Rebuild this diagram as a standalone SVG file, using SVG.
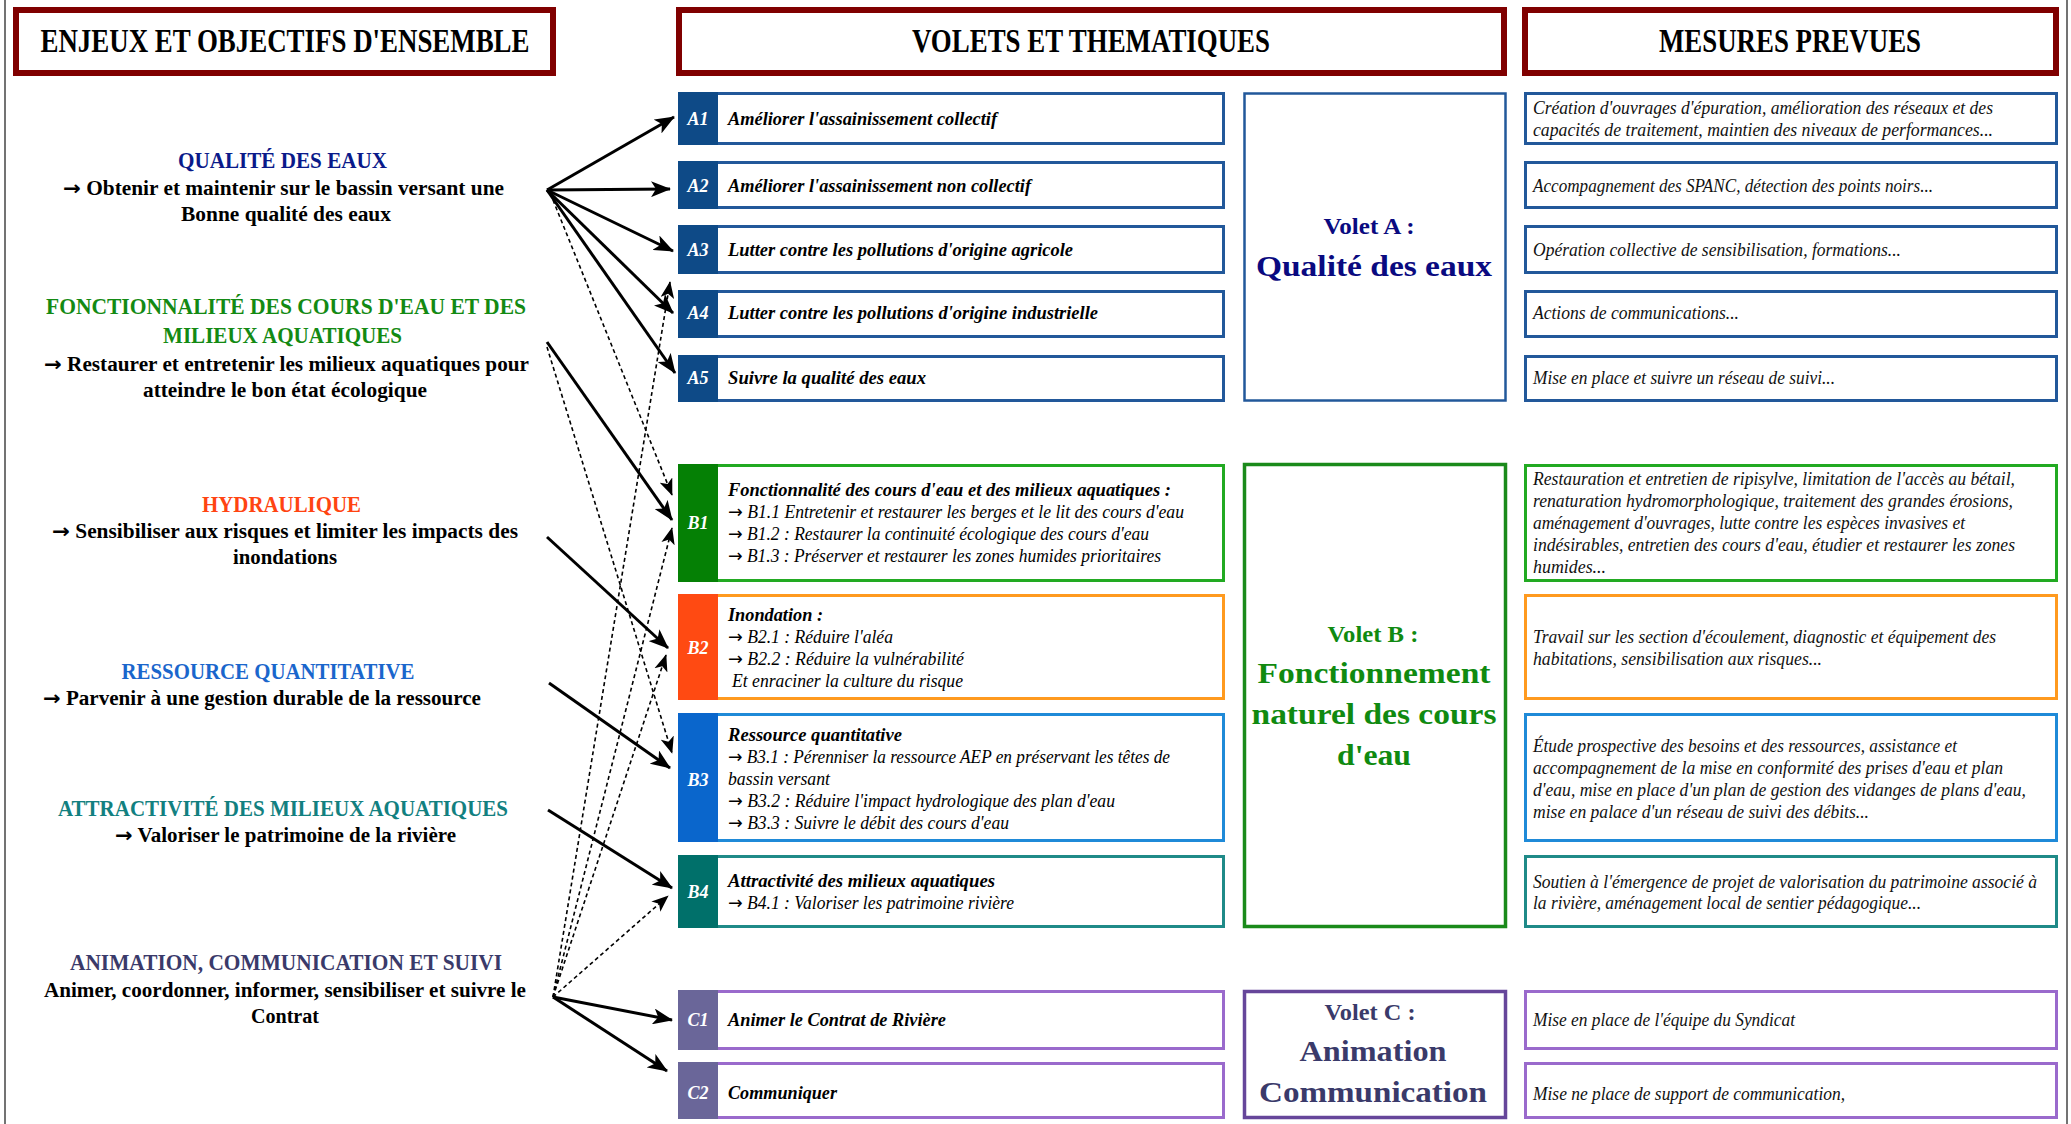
<svg xmlns="http://www.w3.org/2000/svg" width="2071" height="1124" viewBox="0 0 2071 1124">
<defs>
<style>
text{font-family:"Liberation Serif","Times New Roman",serif}
.ar{font-family:"DejaVu Sans",sans-serif}
.hdr{fill:#fff;stroke:#800000;stroke-width:6}
.htx{font-size:33px;font-weight:bold;fill:#000;text-anchor:middle}
.ttl{font-size:24px;font-weight:bold;text-anchor:middle}
.bdy{font-size:20px;font-weight:bold;fill:#000;text-anchor:middle}
.thb{font-size:19px;font-weight:bold;font-style:italic;fill:#000}
.thr{font-size:18px;font-style:italic;fill:#000}
.lab{font-size:18px;font-style:italic;font-weight:bold;fill:#fff;text-anchor:middle}
.mes{font-size:18px;font-style:italic;fill:#111}
.vs{font-size:24px;font-weight:bold;text-anchor:middle}
.vb{font-size:30px;font-weight:bold;text-anchor:middle}
.bx{fill:#fff;stroke-width:3}
.ca{stroke:#22589a}.fa{fill:#0e4a87}
.cb1{stroke:#22aa22}.fb1{fill:#058005}
.cb2{stroke:#ff9a1f}.fb2{fill:#ff4a12}
.cb3{stroke:#1f8ad8}.fb3{fill:#0a66cc}
.cb4{stroke:#1f8a88}.fb4{fill:#00706a}
.cc{stroke:#9a6acc}.fc{fill:#6a6699}
.sol{stroke:#000;stroke-width:3;fill:none;marker-end:url(#ah)}
.dsh{stroke:#000;stroke-width:1.6;fill:none;stroke-dasharray:4 3;marker-end:url(#ahd)}
</style>
<marker id="ah" viewBox="0 0 20 16" markerWidth="20" markerHeight="16" refX="19" refY="8" orient="auto" markerUnits="userSpaceOnUse"><path d="M0,0 L20,8 L0,16 L5,8 z" fill="#000"/></marker>
<marker id="ahd" viewBox="0 0 20 16" markerWidth="17" markerHeight="14" refX="19" refY="8" orient="auto" markerUnits="userSpaceOnUse"><path d="M0,0 L20,8 L0,16 L5,8 z" fill="#000"/></marker>
</defs>
<rect x="0" y="0" width="2071" height="1124" fill="#fff"/>
<line x1="5" y1="0" x2="5" y2="1124" stroke="#444" stroke-width="1.5"/>
<line x1="2067" y1="0" x2="2067" y2="1124" stroke="#444" stroke-width="1.5"/>

<g id="headers">
<rect class="hdr" x="16" y="10" width="537" height="63"/>
<text class="htx" x="285" y="52" textLength="489" lengthAdjust="spacingAndGlyphs">ENJEUX ET OBJECTIFS D'ENSEMBLE</text>
<rect class="hdr" x="679" y="10" width="825" height="63"/>
<text class="htx" x="1091" y="52" textLength="358" lengthAdjust="spacingAndGlyphs">VOLETS ET THEMATIQUES</text>
<rect class="hdr" x="1525" y="10" width="531" height="63"/>
<text class="htx" x="1790" y="52" textLength="262" lengthAdjust="spacingAndGlyphs">MESURES PREVUES</text>
</g>

<g id="enjeu-qualite">
<text class="ttl" x="282.5" y="168" fill="#0a1a8a" textLength="209" lengthAdjust="spacingAndGlyphs">QUALITÉ DES EAUX</text>
<text class="bdy" x="283.5" y="195" textLength="441" lengthAdjust="spacingAndGlyphs"><tspan class="ar">→</tspan> Obtenir et maintenir sur le bassin versant une</text>
<text class="bdy" x="286" y="221" textLength="210" lengthAdjust="spacingAndGlyphs">Bonne qualité des eaux</text>
</g>
<g id="enjeu-fonctionnalite">
<text class="ttl" x="286" y="314" fill="#138a13" textLength="480" lengthAdjust="spacingAndGlyphs">FONCTIONNALITÉ DES COURS D'EAU ET DES</text>
<text class="ttl" x="282.5" y="343" fill="#138a13" textLength="239" lengthAdjust="spacingAndGlyphs">MILIEUX AQUATIQUES</text>
<text class="bdy" x="286.5" y="371" textLength="485" lengthAdjust="spacingAndGlyphs"><tspan class="ar">→</tspan> Restaurer et entretenir les milieux aquatiques pour</text>
<text class="bdy" x="285" y="397" textLength="284" lengthAdjust="spacingAndGlyphs">atteindre le bon état écologique</text>
</g>
<g id="enjeu-hydraulique">
<text class="ttl" x="281.5" y="512" fill="#ff4411" textLength="159" lengthAdjust="spacingAndGlyphs">HYDRAULIQUE</text>
<text class="bdy" x="285" y="538" textLength="466" lengthAdjust="spacingAndGlyphs"><tspan class="ar">→</tspan> Sensibiliser aux risques et limiter les impacts des</text>
<text class="bdy" x="285" y="564" textLength="104" lengthAdjust="spacingAndGlyphs">inondations</text>
</g>
<g id="enjeu-ressource">
<text class="ttl" x="268" y="679" fill="#1a66cc" textLength="293" lengthAdjust="spacingAndGlyphs">RESSOURCE QUANTITATIVE</text>
<text class="bdy" x="262" y="705" textLength="438" lengthAdjust="spacingAndGlyphs"><tspan class="ar">→</tspan> Parvenir à une gestion durable de la ressource</text>
</g>
<g id="enjeu-attractivite">
<text class="ttl" x="283" y="816" fill="#128080" textLength="450" lengthAdjust="spacingAndGlyphs">ATTRACTIVITÉ DES MILIEUX AQUATIQUES</text>
<text class="bdy" x="285.5" y="842" textLength="341" lengthAdjust="spacingAndGlyphs"><tspan class="ar">→</tspan> Valoriser le patrimoine de la rivière</text>
</g>
<g id="enjeu-animation">
<text class="ttl" x="286" y="970" fill="#3a3a6a" textLength="432" lengthAdjust="spacingAndGlyphs">ANIMATION, COMMUNICATION ET SUIVI</text>
<text class="bdy" x="285" y="997" textLength="482" lengthAdjust="spacingAndGlyphs">Animer, coordonner, informer, sensibiliser et suivre le</text>
<text class="bdy" x="285" y="1023" textLength="68" lengthAdjust="spacingAndGlyphs">Contrat</text>
</g>

<g id="theme-A1">
<rect class="bx ca" x="679.5" y="93.5" width="544" height="50"/>
<rect class="fa" x="678" y="92" width="40" height="53"/>
<text class="lab" x="698" y="125">A1</text>
<text class="thb" x="728" y="125" textLength="269" lengthAdjust="spacingAndGlyphs">Améliorer l'assainissement collectif</text>
</g>
<g id="theme-A2">
<rect class="bx ca" x="679.5" y="162.5" width="544" height="45"/>
<rect class="fa" x="678" y="161" width="40" height="48"/>
<text class="lab" x="698" y="192">A2</text>
<text class="thb" x="728" y="192" textLength="303" lengthAdjust="spacingAndGlyphs">Améliorer l'assainissement non collectif</text>
</g>
<g id="theme-A3">
<rect class="bx ca" x="679.5" y="226.5" width="544" height="46"/>
<rect class="fa" x="678" y="225" width="40" height="49"/>
<text class="lab" x="698" y="256">A3</text>
<text class="thb" x="728" y="256" textLength="345" lengthAdjust="spacingAndGlyphs">Lutter contre les pollutions d'origine agricole</text>
</g>
<g id="theme-A4">
<rect class="bx ca" x="679.5" y="291.5" width="544" height="45"/>
<rect class="fa" x="678" y="290" width="40" height="48"/>
<text class="lab" x="698" y="319">A4</text>
<text class="thb" x="728" y="319" textLength="370" lengthAdjust="spacingAndGlyphs">Lutter contre les pollutions d'origine industrielle</text>
</g>
<g id="theme-A5">
<rect class="bx ca" x="679.5" y="356.5" width="544" height="44"/>
<rect class="fa" x="678" y="355" width="40" height="47"/>
<text class="lab" x="698" y="384">A5</text>
<text class="thb" x="728" y="384" textLength="198" lengthAdjust="spacingAndGlyphs">Suivre la qualité des eaux</text>
</g>
<g id="theme-B1">
<rect class="bx cb1" x="679.5" y="465.5" width="544" height="115"/>
<rect class="fb1" x="678" y="464" width="40" height="118"/>
<text class="lab" x="698" y="529">B1</text>
<text class="thb" x="728" y="496" textLength="443" lengthAdjust="spacingAndGlyphs">Fonctionnalité des cours d'eau et des milieux aquatiques :</text>
<text class="thr" x="728" y="518" textLength="456" lengthAdjust="spacingAndGlyphs"><tspan class="ar">→</tspan> B1.1 Entretenir et restaurer les berges et le lit  des cours d'eau</text>
<text class="thr" x="728" y="540" textLength="421" lengthAdjust="spacingAndGlyphs"><tspan class="ar">→</tspan> B1.2 : Restaurer la continuité écologique des cours d'eau</text>
<text class="thr" x="728" y="562" textLength="433" lengthAdjust="spacingAndGlyphs"><tspan class="ar">→</tspan> B1.3 : Préserver et restaurer les zones humides prioritaires</text>
</g>
<g id="theme-B2">
<rect class="bx cb2" x="679.5" y="595.5" width="544" height="103"/>
<rect class="fb2" x="678" y="594" width="40" height="106"/>
<text class="lab" x="698" y="654">B2</text>
<text class="thb" x="728" y="621" textLength="95" lengthAdjust="spacingAndGlyphs">Inondation :</text>
<text class="thr" x="728" y="643" textLength="165" lengthAdjust="spacingAndGlyphs"><tspan class="ar">→</tspan> B2.1 : Réduire l'aléa</text>
<text class="thr" x="728" y="665" textLength="236" lengthAdjust="spacingAndGlyphs"><tspan class="ar">→</tspan> B2.2 : Réduire la vulnérabilité</text>
<text class="thr" x="732" y="687" textLength="231" lengthAdjust="spacingAndGlyphs">Et enraciner la culture du risque</text>
</g>
<g id="theme-B3">
<rect class="bx cb3" x="679.5" y="714.5" width="544" height="126"/>
<rect class="fb3" x="678" y="713" width="40" height="129"/>
<text class="lab" x="698" y="786">B3</text>
<text class="thb" x="728" y="741" textLength="174" lengthAdjust="spacingAndGlyphs">Ressource quantitative</text>
<text class="thr" x="728" y="763" textLength="442" lengthAdjust="spacingAndGlyphs"><tspan class="ar">→</tspan> B3.1 : Pérenniser la ressource AEP en préservant les têtes de</text>
<text class="thr" x="728" y="785" textLength="102" lengthAdjust="spacingAndGlyphs">bassin versant</text>
<text class="thr" x="728" y="807" textLength="387" lengthAdjust="spacingAndGlyphs"><tspan class="ar">→</tspan> B3.2 : Réduire l'impact hydrologique des plan d'eau</text>
<text class="thr" x="728" y="829" textLength="281" lengthAdjust="spacingAndGlyphs"><tspan class="ar">→</tspan> B3.3 : Suivre le débit des cours d'eau</text>
</g>
<g id="theme-B4">
<rect class="bx cb4" x="679.5" y="856.5" width="544" height="70"/>
<rect class="fb4" x="678" y="855" width="40" height="73"/>
<text class="lab" x="698" y="898">B4</text>
<text class="thb" x="728" y="887" textLength="267" lengthAdjust="spacingAndGlyphs">Attractivité des milieux aquatiques</text>
<text class="thr" x="728" y="909" textLength="286" lengthAdjust="spacingAndGlyphs"><tspan class="ar">→</tspan> B4.1 : Valoriser les patrimoine rivière</text>
</g>
<g id="theme-C1">
<rect class="bx cc" x="679.5" y="991.5" width="544" height="57"/>
<rect class="fc" x="678" y="990" width="40" height="60"/>
<text class="lab" x="698" y="1026">C1</text>
<text class="thb" x="728" y="1026" textLength="218" lengthAdjust="spacingAndGlyphs">Animer le Contrat de Rivière</text>
</g>
<g id="theme-C2">
<rect class="bx cc" x="679.5" y="1063.5" width="544" height="54"/>
<rect class="fc" x="678" y="1062" width="40" height="57"/>
<text class="lab" x="698" y="1099">C2</text>
<text class="thb" x="728" y="1099" textLength="109" lengthAdjust="spacingAndGlyphs">Communiquer</text>
</g>

<g id="volet-A">
<rect x="1244.5" y="93.5" width="261" height="307" fill="#fff" stroke="#22589a" stroke-width="2.5"/>
<text class="vs" x="1369" y="234" fill="#0a0a80" textLength="91" lengthAdjust="spacingAndGlyphs">Volet A :</text>
<text class="vb" x="1374" y="276" fill="#0a0a80" textLength="236" lengthAdjust="spacingAndGlyphs">Qualité des eaux</text>
</g>
<g id="volet-B">
<rect x="1244.5" y="464.5" width="261" height="462" fill="#fff" stroke="#1a8a1a" stroke-width="3.5"/>
<text class="vs" x="1373" y="642" fill="#108a10" textLength="91" lengthAdjust="spacingAndGlyphs">Volet B :</text>
<text class="vb" x="1374" y="683" fill="#108a10" textLength="233" lengthAdjust="spacingAndGlyphs">Fonctionnement</text>
<text class="vb" x="1374" y="724" fill="#108a10" textLength="245" lengthAdjust="spacingAndGlyphs">naturel des cours</text>
<text class="vb" x="1374" y="765" fill="#108a10" textLength="74" lengthAdjust="spacingAndGlyphs">d'eau</text>
</g>
<g id="volet-C">
<rect x="1244.5" y="991.5" width="261" height="126" fill="#fff" stroke="#66469a" stroke-width="3.5"/>
<text class="vs" x="1370" y="1020" fill="#3a3a6a" textLength="91" lengthAdjust="spacingAndGlyphs">Volet C :</text>
<text class="vb" x="1373" y="1061" fill="#3a3a6a" textLength="147" lengthAdjust="spacingAndGlyphs">Animation</text>
<text class="vb" x="1373" y="1102" fill="#3a3a6a" textLength="228" lengthAdjust="spacingAndGlyphs">Communication</text>
</g>

<g id="mesure-A1">
<rect class="bx ca" x="1525.5" y="93.5" width="531" height="50"/>
<text class="mes" x="1533" y="114" textLength="460" lengthAdjust="spacingAndGlyphs">Création d'ouvrages d'épuration, amélioration des réseaux et des</text>
<text class="mes" x="1533" y="136" textLength="460" lengthAdjust="spacingAndGlyphs">capacités de traitement, maintien des niveaux de performances...</text>
</g>
<g id="mesure-A2">
<rect class="bx ca" x="1525.5" y="162.5" width="531" height="45"/>
<text class="mes" x="1533" y="192" textLength="400" lengthAdjust="spacingAndGlyphs">Accompagnement des SPANC, détection des points noirs...</text>
</g>
<g id="mesure-A3">
<rect class="bx ca" x="1525.5" y="226.5" width="531" height="46"/>
<text class="mes" x="1533" y="256" textLength="368" lengthAdjust="spacingAndGlyphs">Opération collective de sensibilisation, formations...</text>
</g>
<g id="mesure-A4">
<rect class="bx ca" x="1525.5" y="291.5" width="531" height="45"/>
<text class="mes" x="1533" y="319" textLength="206" lengthAdjust="spacingAndGlyphs">Actions de communications...</text>
</g>
<g id="mesure-A5">
<rect class="bx ca" x="1525.5" y="356.5" width="531" height="44"/>
<text class="mes" x="1533" y="384" textLength="302" lengthAdjust="spacingAndGlyphs">Mise en place et suivre un réseau de suivi...</text>
</g>
<g id="mesure-B1">
<rect class="bx cb1" x="1525.5" y="465.5" width="531" height="115"/>
<text class="mes" x="1533" y="485" textLength="482" lengthAdjust="spacingAndGlyphs">Restauration et entretien de ripisylve, limitation de l'accès au bétail,</text>
<text class="mes" x="1533" y="507" textLength="480" lengthAdjust="spacingAndGlyphs">renaturation hydromorphologique, traitement des grandes érosions,</text>
<text class="mes" x="1533" y="529" textLength="432" lengthAdjust="spacingAndGlyphs">aménagement d'ouvrages, lutte contre les espèces invasives et</text>
<text class="mes" x="1533" y="551" textLength="482" lengthAdjust="spacingAndGlyphs">indésirables, entretien des cours d'eau, étudier et restaurer les zones</text>
<text class="mes" x="1533" y="573" textLength="73" lengthAdjust="spacingAndGlyphs">humides...</text>
</g>
<g id="mesure-B2">
<rect class="bx cb2" x="1525.5" y="595.5" width="531" height="103"/>
<text class="mes" x="1533" y="643" textLength="463" lengthAdjust="spacingAndGlyphs">Travail sur les section d'écoulement, diagnostic et équipement des</text>
<text class="mes" x="1533" y="665" textLength="289" lengthAdjust="spacingAndGlyphs">habitations, sensibilisation aux risques...</text>
</g>
<g id="mesure-B3">
<rect class="bx cb3" x="1525.5" y="714.5" width="531" height="126"/>
<text class="mes" x="1533" y="752" textLength="424" lengthAdjust="spacingAndGlyphs">Étude prospective des besoins et des ressources, assistance et</text>
<text class="mes" x="1533" y="774" textLength="470" lengthAdjust="spacingAndGlyphs">accompagnement de la mise en conformité des prises d'eau et plan</text>
<text class="mes" x="1533" y="796" textLength="493" lengthAdjust="spacingAndGlyphs">d'eau, mise en place d'un plan de gestion des vidanges de plans d'eau,</text>
<text class="mes" x="1533" y="818" textLength="336" lengthAdjust="spacingAndGlyphs">mise en palace d'un réseau de suivi des débits...</text>
</g>
<g id="mesure-B4">
<rect class="bx cb4" x="1525.5" y="856.5" width="531" height="70"/>
<text class="mes" x="1533" y="888" textLength="504" lengthAdjust="spacingAndGlyphs">Soutien à l'émergence de projet de valorisation du patrimoine associé à</text>
<text class="mes" x="1533" y="909" textLength="388" lengthAdjust="spacingAndGlyphs">la rivière, aménagement local de sentier pédagogique...</text>
</g>
<g id="mesure-C1">
<rect class="bx cc" x="1525.5" y="991.5" width="531" height="57"/>
<text class="mes" x="1533" y="1026" textLength="262" lengthAdjust="spacingAndGlyphs">Mise en place de l'équipe du Syndicat</text>
</g>
<g id="mesure-C2">
<rect class="bx cc" x="1525.5" y="1063.5" width="531" height="54"/>
<text class="mes" x="1533" y="1100" textLength="312" lengthAdjust="spacingAndGlyphs">Mise ne place de support de communication,</text>
</g>

<g id="connectors">
<line class="sol" x1="547" y1="190" x2="674" y2="117"/>
<line class="sol" x1="547" y1="190" x2="670" y2="189"/>
<line class="sol" x1="547" y1="190" x2="673" y2="251"/>
<line class="sol" x1="547" y1="190" x2="673" y2="313"/>
<line class="sol" x1="547" y1="190" x2="675" y2="373"/>
<line class="sol" x1="547" y1="342" x2="672" y2="520"/>
<line class="sol" x1="547" y1="537" x2="668" y2="648"/>
<line class="sol" x1="549" y1="683" x2="670" y2="768"/>
<line class="sol" x1="548" y1="810" x2="672" y2="888"/>
<line class="sol" x1="553" y1="997" x2="672" y2="1020"/>
<line class="sol" x1="553" y1="997" x2="667" y2="1071"/>
<line class="dsh" x1="553" y1="200" x2="672" y2="495"/>
<line class="dsh" x1="547" y1="347" x2="672" y2="753"/>
<line class="dsh" x1="553" y1="997" x2="670" y2="282"/>
<line class="dsh" x1="553" y1="997" x2="672" y2="528"/>
<line class="dsh" x1="553" y1="997" x2="666" y2="655"/>
<line class="dsh" x1="553" y1="997" x2="668" y2="896"/>
</g>
</svg>
